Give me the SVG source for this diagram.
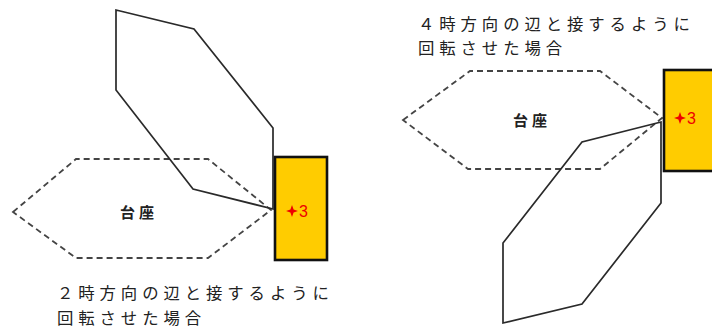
<svg xmlns="http://www.w3.org/2000/svg" width="712" height="328" viewBox="0 0 712 328">
<defs>
<style>
.base{fill:none;stroke:#444;stroke-width:1.8;stroke-dasharray:6 4}
.rot{fill:none;stroke:#2a2a2a;stroke-width:1.7;stroke-linejoin:miter}
.blk{fill:#FFCC00;stroke:#111;stroke-width:2.6}
.cap{font-family:"Noto Sans CJK JP","Noto Sans",sans-serif;font-size:16.4px;fill:#222;letter-spacing:4.9px}
.lbl{font-family:"Noto Sans CJK JP","Noto Sans",sans-serif;font-size:15px;font-weight:bold;fill:#222;letter-spacing:4px}
.num{font-family:"Liberation Sans",Arial,sans-serif;font-size:16px;fill:#e00}
.star{fill:#e00}
</style>
<path id="st" d="M0,-6 L1.6,-1.6 L6,0 L1.6,1.6 L0,6 L-1.6,1.6 L-6,0 L-1.6,-1.6 Z"/>
</defs>
<rect width="712" height="328" fill="#fff"/>

<g id="left-base">
<polygon class="base" points="13,212 76,159 208,159 271,210 208,258 76,258"/>
<text class="lbl" x="120" y="218">台座</text>
</g>
<g id="left-rotated">
<polygon class="rot" points="116,10 194,29 273,128 273,209 193,189 116,90"/>
</g>
<g id="left-block">
<rect class="blk" x="275" y="157" width="52" height="103"/>
<use href="#st" class="star" x="292" y="211"/>
<text class="num" x="299" y="217">3</text>
</g>
<g id="left-caption">
<text class="cap" x="57" y="299">２時方向の辺と接するように</text>
<text class="cap" x="57" y="323.5">回転させた場合</text>
</g>

<g id="right-base">
<polygon class="base" points="403,120 470,71 600,71 662,118 600,169 468,169"/>
<text class="lbl" x="513" y="126">台座</text>
</g>
<g id="right-rotated">
<polygon class="rot" points="661,122 582,142 503,243 503,323 582,304 661,203"/>
</g>
<g id="right-block">
<rect class="blk" x="664" y="70" width="52" height="101"/>
<use href="#st" class="star" x="680" y="118"/>
<text class="num" x="687" y="124">3</text>
</g>
<g id="right-caption">
<text class="cap" x="418" y="29.5">４時方向の辺と接するように</text>
<text class="cap" x="418" y="54">回転させた場合</text>
</g>
<g id="connectors"/>
</svg>
